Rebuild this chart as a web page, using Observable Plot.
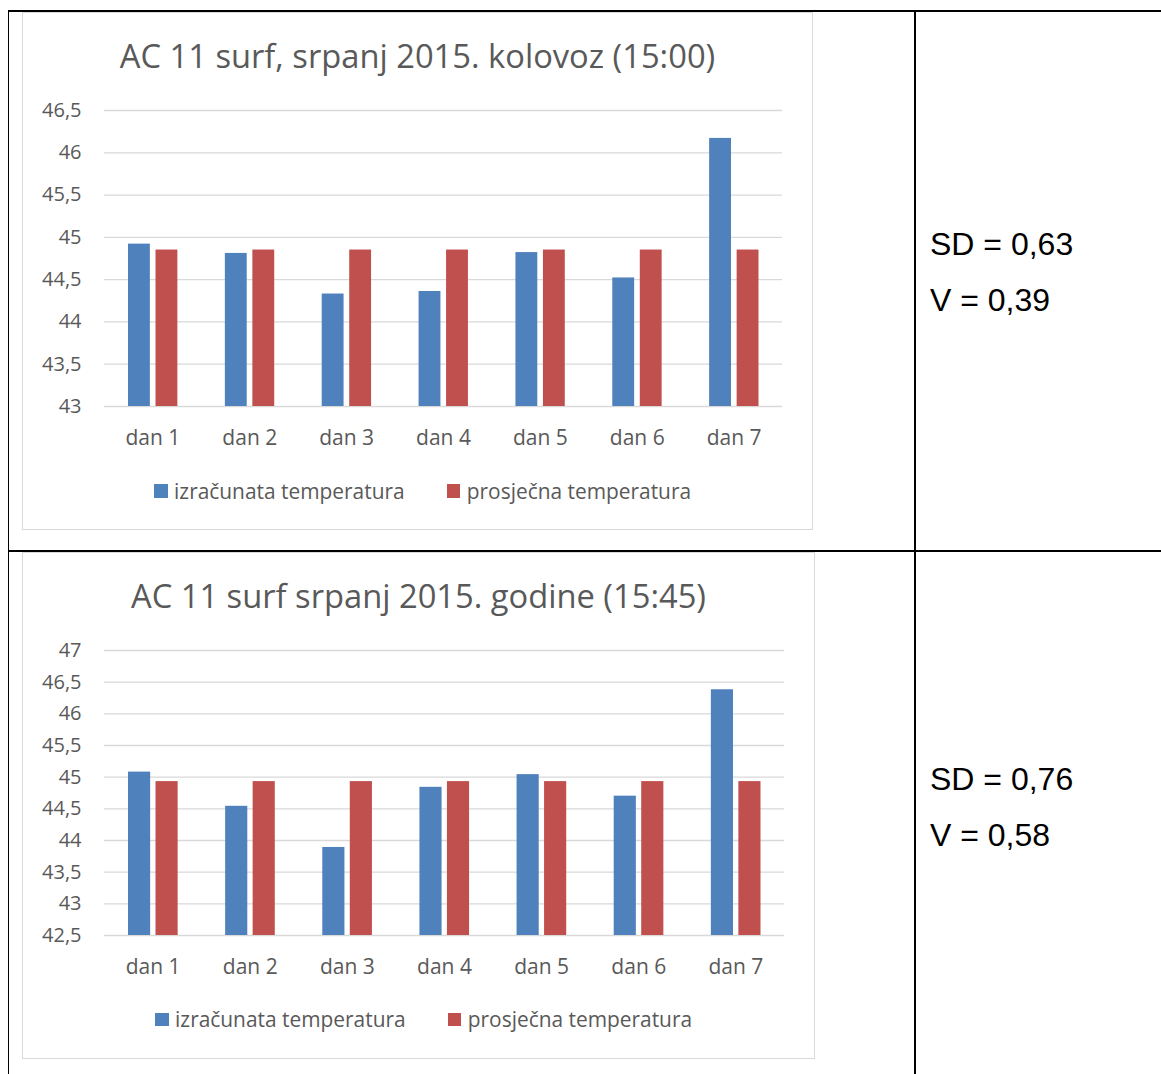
<!DOCTYPE html>
<html><head><meta charset="utf-8">
<script src="https://cdn.jsdelivr.net/npm/d3@7"></script>
<script src="https://cdn.jsdelivr.net/npm/@observablehq/plot@0.6"></script>
<style>
body{margin:0;background:#fff;width:1161px;height:1074px;position:relative;overflow:hidden;font-family:"Open Sans",sans-serif;}
.line{position:absolute;background:#000;}
.frame{position:absolute;border:1px solid #d9d9d9;box-sizing:border-box;background:#fff;}
.title{position:absolute;text-align:center;color:#595959;white-space:nowrap;line-height:1;font-size:32.7px;}
.legend{position:absolute;display:flex;justify-content:center;align-items:center;color:#595959;font-size:20.9px;line-height:1;box-sizing:border-box;}
.item{display:flex;align-items:center;}
.item + .item{margin-left:42px;}
.sw{width:13.7px;height:13.7px;margin-right:6.5px;}
.stat{position:absolute;font-family:"Liberation Sans",Arial,sans-serif;font-size:32px;color:#000;line-height:1;white-space:nowrap;}
.plot{position:absolute;}
</style></head><body>
<script>
// ---- data ----
const days = ["dan 1", "dan 2", "dan 3", "dan 4", "dan 5", "dan 6", "dan 7"];
const seriesNames = ["izračunata temperatura", "prosječna temperatura"];
const seriesColors = ["#4F81BD", "#C0504D"];

const title1 = "AC 11 surf, srpanj 2015. kolovoz (15:00)";
const izracunata1 = [44.92, 44.81, 44.33, 44.36, 44.82, 44.52, 46.17];
const prosjecna1 = [44.85, 44.85, 44.85, 44.85, 44.85, 44.85, 44.85];
const yTicks1 = [43, 43.5, 44, 44.5, 45, 45.5, 46, 46.5];
const stats1 = ["SD = 0,63", "V = 0,39"];

const title2 = "AC 11 surf srpanj 2015. godine (15:45)";
const izracunata2 = [45.08, 44.54, 43.89, 44.84, 45.04, 44.70, 46.38];
const prosjecna2 = [44.93, 44.93, 44.93, 44.93, 44.93, 44.93, 44.93];
const yTicks2 = [42.5, 43, 43.5, 44, 44.5, 45, 45.5, 46, 46.5, 47];
const stats2 = ["SD = 0,76", "V = 0,58"];

// ---- helpers ----
function el(cls, css, text) {
  const d = document.createElement("div");
  d.className = cls;
  Object.assign(d.style, css);
  if (text != null) d.textContent = text;
  document.body.appendChild(d);
  return d;
}
const fmt = d => String(d).replace(".", ",");

function chart({frame, titleText, titleTop, svg, ticks, izr, pros, legendTop}) {
  el("frame", {left: frame[0] + "px", top: frame[1] + "px", width: frame[2] + "px", height: frame[3] + "px"});
  el("title", {left: frame[0] + "px", top: titleTop + "px", width: frame[2] + "px"}, titleText);
  const data = days.map((d, i) => ({day: d, izr: izr[i], pros: pros[i]}));
  const y0 = ticks[0], y1 = ticks[ticks.length - 1];
  const p = Plot.plot({
    width: svg.width, height: svg.height,
    marginTop: svg.mt, marginBottom: svg.mb, marginLeft: svg.ml, marginRight: svg.mr,
    style: {fontFamily: '"Open Sans", sans-serif', fontSize: "21px", color: "#595959", background: "transparent", overflow: "visible"},
    x: {domain: days, padding: 0, round: false, label: null},
    y: {domain: [y0, y1], label: null},
    marks: [
      Plot.ruleY(ticks, {stroke: "#d9d9d9", strokeWidth: 1.3}),
      Plot.barY(data, {x: "day", y1: y0, y2: "izr", fill: seriesColors[0], insetLeft: 24, insetRight: 51}),
      Plot.barY(data, {x: "day", y1: y0, y2: "pros", fill: seriesColors[1], insetLeft: 51.5, insetRight: 23.5}),
      Plot.axisY({ticks, tickSize: 0, tickPadding: 23, tickFormat: fmt, fontSize: 20, label: null}),
      Plot.axisX({tickSize: 0, tickPadding: 24, fontSize: 21, label: null})
    ]
  });
  const wrap = el("plot", {left: svg.left + "px", top: svg.top + "px"});
  wrap.appendChild(p);
  const lg = el("legend", {left: frame[0] + "px", top: legendTop + "px", width: frame[2] + "px", height: "20px", paddingLeft: "10px"});
  seriesNames.forEach((n, i) => {
    const it = document.createElement("div");
    it.className = "item";
    const sw = document.createElement("div");
    sw.className = "sw";
    sw.style.background = seriesColors[i];
    const tx = document.createElement("span");
    tx.textContent = n;
    it.appendChild(sw); it.appendChild(tx);
    lg.appendChild(it);
  });
}

chart({
  frame: [22, 12, 791, 518], titleText: title1, titleTop: 39.7,
  svg: {left: 22, top: 90, width: 790, height: 361, mt: 20, mb: 45, ml: 82, mr: 30},
  ticks: yTicks1, izr: izracunata1, pros: prosjecna1, legendTop: 481
});
chart({
  frame: [22, 552, 793, 507], titleText: title2, titleTop: 580,
  svg: {left: 22, top: 630, width: 792, height: 350, mt: 20, mb: 45, ml: 82, mr: 30},
  ticks: yTicks2, izr: izracunata2, pros: prosjecna2, legendTop: 1009.5
});

// stats text
el("stat", {left: "930px", top: "228px"}, stats1[0]);
el("stat", {left: "930px", top: "284px"}, stats1[1]);
el("stat", {left: "930px", top: "763px"}, stats2[0]);
el("stat", {left: "930px", top: "819px"}, stats2[1]);

// table lines
el("line", {left: "7.5px", top: "10px", width: "1160px", height: "2px"});
el("line", {left: "7.5px", top: "10px", width: "1.7px", height: "1070px"});
el("line", {left: "914px", top: "10px", width: "2px", height: "1070px"});
el("line", {left: "7.5px", top: "550px", width: "1160px", height: "2px"});
</script>
</body></html>
